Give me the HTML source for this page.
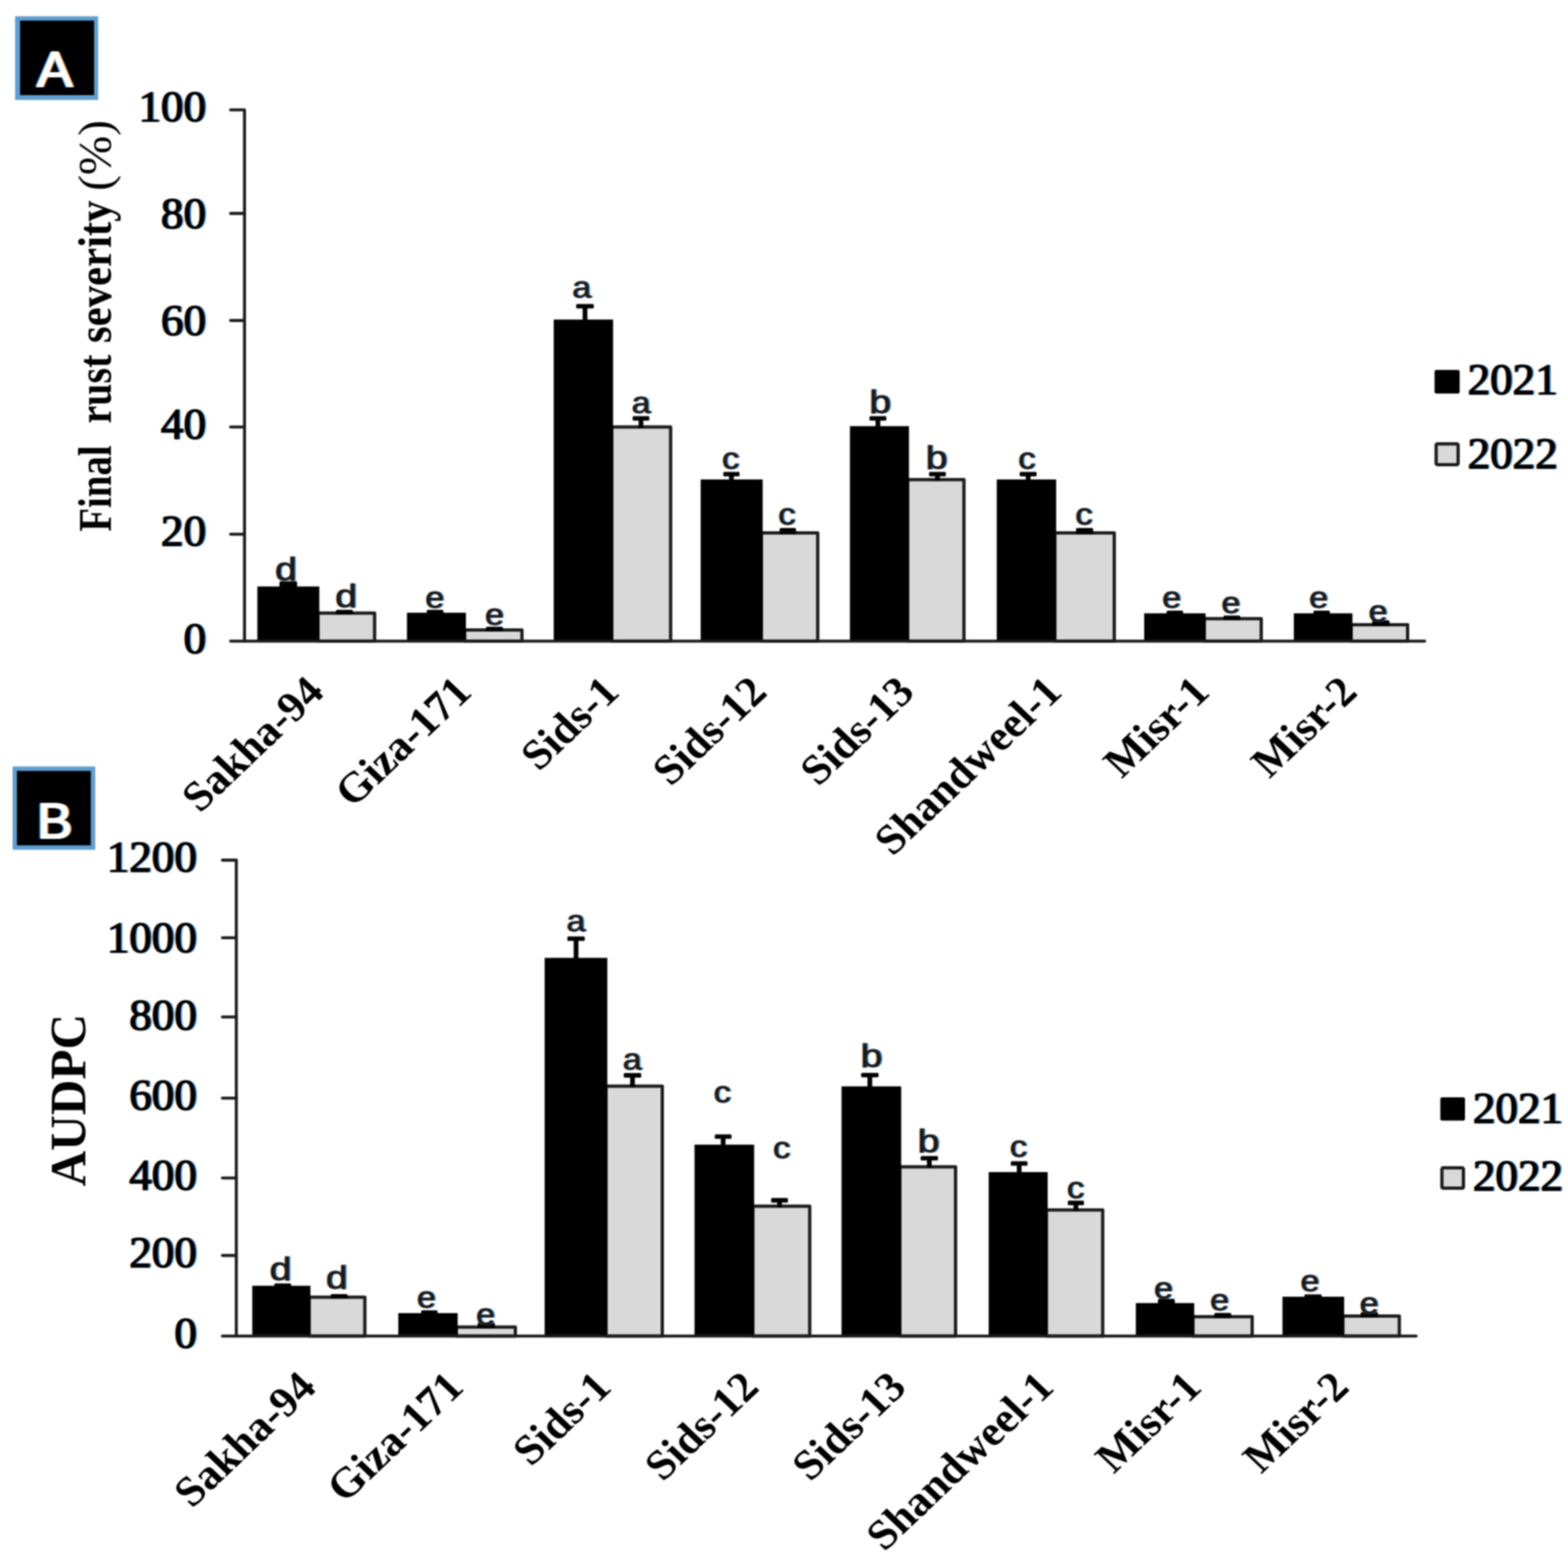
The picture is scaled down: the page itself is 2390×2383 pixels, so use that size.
<!DOCTYPE html>
<html lang="en"><head><meta charset="utf-8"><title>Final rust severity and AUDPC of wheat cultivars, 2021 and 2022</title>
<style>html,body{margin:0;padding:0;background:#fff}body{width:2390px;height:2383px;overflow:hidden}svg{display:block}text{white-space:pre}</style>
</head><body>
<svg xmlns="http://www.w3.org/2000/svg" width="2390" height="2383" viewBox="0 0 2390 2383" role="img">
<defs><filter id="soft" filterUnits="userSpaceOnUse" x="0" y="0" width="2390" height="2383" color-interpolation-filters="sRGB"><feGaussianBlur stdDeviation="1.1"/></filter><filter id="fr" x="-5%" y="-5%" width="110%" height="110%" color-interpolation-filters="sRGB"><feFlood flood-color="#f08a30" flood-opacity="0.85"/><feComposite in2="SourceAlpha" operator="in"/><feOffset dx="-1.5" result="o"/><feFlood flood-color="#2a8ae6" flood-opacity="0.85"/><feComposite in2="SourceAlpha" operator="in"/><feOffset dx="1.5" result="b"/><feMerge><feMergeNode in="o"/><feMergeNode in="b"/><feMergeNode in="SourceGraphic"/></feMerge></filter><filter id="fw" x="-5%" y="-5%" width="110%" height="110%" color-interpolation-filters="sRGB"><feFlood flood-color="#35a5ff" flood-opacity="0.9"/><feComposite in2="SourceAlpha" operator="in"/><feOffset dx="-1.5" result="b"/><feFlood flood-color="#ffa040" flood-opacity="0.9"/><feComposite in2="SourceAlpha" operator="in"/><feOffset dx="1.5" result="o"/><feMerge><feMergeNode in="b"/><feMergeNode in="o"/><feMergeNode in="SourceGraphic"/></feMerge></filter></defs>
<rect width="2390" height="2383" fill="#fff"/>
<g filter="url(#soft)">
<rect width="2390" height="2383" fill="#fff"/>
<g class="chart" id="chartA">
<g class="bars">
<rect x="484.7" y="934.8" width="86.3" height="42.7" fill="#d9d9d9" stroke="#1c1c1c" stroke-width="5" stroke-linejoin="round"/>
<rect x="392.3" y="894.2" width="94.4" height="83.3" fill="#000"/>
<rect x="708.2" y="960.5" width="87.4" height="17" fill="#d9d9d9" stroke="#1c1c1c" stroke-width="5" stroke-linejoin="round"/>
<rect x="620.3" y="934.2" width="89.9" height="43.3" fill="#000"/>
<rect x="932.5" y="650.9" width="89.7" height="326.6" fill="#d9d9d9" stroke="#1c1c1c" stroke-width="5" stroke-linejoin="round"/>
<rect x="844" y="487.2" width="90.5" height="490.3" fill="#000"/>
<rect x="1160.5" y="812.6" width="85.9" height="164.9" fill="#d9d9d9" stroke="#1c1c1c" stroke-width="5" stroke-linejoin="round"/>
<rect x="1068" y="731" width="94.5" height="246.5" fill="#000"/>
<rect x="1383.5" y="731.2" width="85.8" height="246.3" fill="#d9d9d9" stroke="#1c1c1c" stroke-width="5" stroke-linejoin="round"/>
<rect x="1295.5" y="649.7" width="90" height="327.8" fill="#000"/>
<rect x="1607.8" y="812.6" width="90.6" height="164.9" fill="#d9d9d9" stroke="#1c1c1c" stroke-width="5" stroke-linejoin="round"/>
<rect x="1519.3" y="731" width="90.5" height="246.5" fill="#000"/>
<rect x="1835.6" y="943.2" width="86.8" height="34.3" fill="#d9d9d9" stroke="#1c1c1c" stroke-width="5" stroke-linejoin="round"/>
<rect x="1744" y="935.1" width="93.6" height="42.4" fill="#000"/>
<rect x="2059.4" y="952.5" width="86.1" height="25" fill="#d9d9d9" stroke="#1c1c1c" stroke-width="5" stroke-linejoin="round"/>
<rect x="1972.1" y="935.1" width="89.3" height="42.4" fill="#000"/>
</g>
<g class="err" fill="#000">
<rect x="426" y="886.3" width="26.8" height="6.8" rx="1.5"/>
<rect x="426" y="889.2" width="26.8" height="8"/>
<rect x="512.3" y="929.7" width="25.6" height="6.8" rx="1.5"/>
<rect x="512.3" y="932.6" width="25.6" height="4"/>
<rect x="650.6" y="929.7" width="25.1" height="6.8" rx="1.5"/>
<rect x="650.6" y="932.6" width="25.1" height="4.6"/>
<rect x="740.8" y="955.4" width="25.7" height="6.8" rx="1.5"/>
<rect x="740.8" y="958.3" width="25.7" height="4"/>
<rect x="878.3" y="463.4" width="26.8" height="6.8" rx="1.5"/>
<rect x="888.1" y="466.3" width="7.2" height="23.9"/>
<rect x="964.3" y="634.4" width="25.4" height="6.8" rx="1.5"/>
<rect x="973.4" y="637.3" width="7.2" height="15.4"/>
<rect x="1102.5" y="719.4" width="24.7" height="6.8" rx="1.5"/>
<rect x="1111.25" y="722.3" width="7.2" height="11.7"/>
<rect x="1188.5" y="805.1" width="24.7" height="6.8" rx="1.5"/>
<rect x="1188.5" y="808" width="24.7" height="6.4"/>
<rect x="1325.3" y="634.4" width="25.7" height="6.8" rx="1.5"/>
<rect x="1334.55" y="637.3" width="7.2" height="15.4"/>
<rect x="1416.1" y="719.4" width="25.6" height="6.8" rx="1.5"/>
<rect x="1425.3" y="722.3" width="7.2" height="10.7"/>
<rect x="1554.3" y="719.4" width="25.7" height="6.8" rx="1.5"/>
<rect x="1563.55" y="722.3" width="7.2" height="11.7"/>
<rect x="1640.3" y="805.1" width="25.8" height="6.8" rx="1.5"/>
<rect x="1640.3" y="808" width="25.8" height="6.4"/>
<rect x="1778.3" y="930.9" width="24.9" height="6.8" rx="1.5"/>
<rect x="1778.3" y="933.8" width="24.9" height="4.3"/>
<rect x="1864.8" y="938.4" width="25.6" height="6.8" rx="1.5"/>
<rect x="1864.8" y="941.3" width="25.6" height="3.7"/>
<rect x="2002" y="930.9" width="25" height="6.8" rx="1.5"/>
<rect x="2002" y="933.8" width="25" height="4.3"/>
<rect x="2091.7" y="945.8" width="26.2" height="6.8" rx="1.5"/>
<rect x="2091.7" y="948.7" width="26.2" height="5.6"/>
</g>
<g class="axes" stroke="#1c1c1c" stroke-width="4.6" fill="none" stroke-linecap="round">
<path d="M351.5 977.5H2171.5"/>
<path d="M351.5 167.5H372.7V977.5" stroke-linejoin="round"/>
<path d="M351.5 325.4H372.7"/>
<path d="M351.5 488.6H372.7"/>
<path d="M351.5 651H372.7"/>
<path d="M351.5 814.5H372.7"/>
</g>
<g class="ticklabels" filter="url(#fr)" font-family='"Liberation Serif", "DejaVu Serif", serif' font-weight="400" stroke="#000" stroke-width="1.5" stroke-linejoin="round" font-size="66.7" text-anchor="end" fill="#000">
<text transform="translate(314 184.94) scale(1.03 1)">100</text>
<text transform="translate(314 348.04) scale(1.03 1)">80</text>
<text transform="translate(314 510.64) scale(1.03 1)">60</text>
<text transform="translate(314 669.24) scale(1.03 1)">40</text>
<text transform="translate(314 832.44) scale(1.03 1)">20</text>
<text transform="translate(314 995.94) scale(1.03 1)">0</text>
</g>
<g class="letters" filter="url(#fr)" font-family='"Liberation Sans", "DejaVu Sans", sans-serif' font-size="47" fill="#1a1a1a" stroke="#1a1a1a" stroke-width="0.8" stroke-linejoin="round">
<text transform="translate(419.23 885) scale(1.27 1.07)">d</text>
<text transform="translate(510.93 926.2) scale(1.27 1.07)">d</text>
<text transform="translate(648.21 927.3) scale(1.1 1.0)">e</text>
<text transform="translate(739.16 953) scale(1.1 1.0)">e</text>
<text transform="translate(872.18 453.6) scale(1.1 1.0)">a</text>
<text transform="translate(962.83 629.8) scale(1.1 1.0)">a</text>
<text transform="translate(1100.54 714.8) scale(1.12 1.0)">c</text>
<text transform="translate(1186.19 799.8) scale(1.12 1.0)">c</text>
<text transform="translate(1325.09 629.8) scale(1.27 1.07)">b</text>
<text transform="translate(1411.09 714.8) scale(1.27 1.07)">b</text>
<text transform="translate(1551.99 714.8) scale(1.12 1.0)">c</text>
<text transform="translate(1638.99 799.8) scale(1.12 1.0)">c</text>
<text transform="translate(1771.46 927.1) scale(1.1 1.0)">e</text>
<text transform="translate(1861.81 935.2) scale(1.1 1.0)">e</text>
<text transform="translate(1995.46 926.5) scale(1.1 1.0)">e</text>
<text transform="translate(2085.91 948.3) scale(1.1 1.0)">e</text>
</g>
<g class="cats" font-family='"Liberation Serif", "DejaVu Serif", serif' font-weight="700" font-size="64.6" text-anchor="end" fill="#000">
<text transform="translate(496.69 1058) scale(1.05 1) rotate(-45)">Sakha-94</text>
<text transform="translate(721.66 1058) scale(1.05 1) rotate(-45)">Giza-171</text>
<text transform="translate(946.64 1058) scale(1.05 1) rotate(-45)">Sids-1</text>
<text transform="translate(1171.61 1058) scale(1.05 1) rotate(-45)">Sids-12</text>
<text transform="translate(1396.59 1058) scale(1.05 1) rotate(-45)">Sids-13</text>
<text transform="translate(1621.56 1058) scale(1.05 1) rotate(-45)">Shandweel-1</text>
<text transform="translate(1846.54 1058) scale(1.05 1) rotate(-45)">Misr-1</text>
<text transform="translate(2071.51 1058) scale(1.05 1) rotate(-45)">Misr-2</text>
</g>
<g class="legend">
<rect x="2186.6" y="564.1" width="38.3" height="35.8" rx="3" fill="#000"/>
<rect x="2189" y="676.8" width="33.5" height="31.6" rx="2" fill="#d9d9d9" stroke="#1c1c1c" stroke-width="5" stroke-linejoin="round"/>
<g filter="url(#fr)" font-family='"Liberation Serif", "DejaVu Serif", serif' font-weight="400" stroke="#000" stroke-width="1.5" stroke-linejoin="round" font-size="66.7" fill="#000">
<text transform="translate(2236.9 601) scale(1.03 1)">2021</text>
<text transform="translate(2236.9 714.4) scale(1.03 1)">2022</text>
</g></g>
</g>
<g class="chart" id="chartB">
<g class="bars">
<rect x="471.2" y="1977.7" width="84.9" height="59.3" fill="#d9d9d9" stroke="#1c1c1c" stroke-width="5" stroke-linejoin="round"/>
<rect x="384.5" y="1960.3" width="88.7" height="76.7" fill="#000"/>
<rect x="695.6" y="2023.2" width="89.9" height="13.8" fill="#d9d9d9" stroke="#1c1c1c" stroke-width="5" stroke-linejoin="round"/>
<rect x="607.1" y="2002" width="90.5" height="35" fill="#000"/>
<rect x="923.7" y="1656" width="85.8" height="381" fill="#d9d9d9" stroke="#1c1c1c" stroke-width="5" stroke-linejoin="round"/>
<rect x="830.2" y="1460.4" width="95.5" height="576.6" fill="#000"/>
<rect x="1147.5" y="1839" width="86.7" height="198" fill="#d9d9d9" stroke="#1c1c1c" stroke-width="5" stroke-linejoin="round"/>
<rect x="1058.6" y="1745.2" width="90.9" height="291.8" fill="#000"/>
<rect x="1371.6" y="1779" width="84.9" height="258" fill="#d9d9d9" stroke="#1c1c1c" stroke-width="5" stroke-linejoin="round"/>
<rect x="1282.7" y="1656.3" width="90.9" height="380.7" fill="#000"/>
<rect x="1594.9" y="1844.7" width="85.9" height="192.3" fill="#d9d9d9" stroke="#1c1c1c" stroke-width="5" stroke-linejoin="round"/>
<rect x="1507" y="1787" width="89.9" height="250" fill="#000"/>
<rect x="1818.3" y="2007.6" width="90.3" height="29.4" fill="#d9d9d9" stroke="#1c1c1c" stroke-width="5" stroke-linejoin="round"/>
<rect x="1731.3" y="1986.7" width="89" height="50.3" fill="#000"/>
<rect x="2046.8" y="2006.6" width="86.1" height="30.4" fill="#d9d9d9" stroke="#1c1c1c" stroke-width="5" stroke-linejoin="round"/>
<rect x="1954.8" y="1977" width="94" height="60" fill="#000"/>
</g>
<g class="err" fill="#000">
<rect x="418.2" y="1956.7" width="25.5" height="6.8" rx="1.5"/>
<rect x="418.2" y="1959.6" width="25.5" height="3.7"/>
<rect x="504.2" y="1972.9" width="25.5" height="6.8" rx="1.5"/>
<rect x="504.2" y="1975.8" width="25.5" height="3.7"/>
<rect x="642" y="1997.8" width="24.9" height="6.8" rx="1.5"/>
<rect x="642" y="2000.7" width="24.9" height="4.3"/>
<rect x="728" y="2016.5" width="26.2" height="6.8" rx="1.5"/>
<rect x="728" y="2019.4" width="26.2" height="5.6"/>
<rect x="864.8" y="1427.8" width="26.5" height="6.8" rx="1.5"/>
<rect x="874.45" y="1430.7" width="7.2" height="32.7"/>
<rect x="950.8" y="1636.1" width="26.5" height="6.8" rx="1.5"/>
<rect x="960.45" y="1639" width="7.2" height="18.8"/>
<rect x="1089.5" y="1729.4" width="25.5" height="6.8" rx="1.5"/>
<rect x="1098.65" y="1732.3" width="7.2" height="15.9"/>
<rect x="1175.4" y="1826.6" width="25.6" height="6.8" rx="1.5"/>
<rect x="1184.6" y="1829.5" width="7.2" height="11.3"/>
<rect x="1312.6" y="1635.8" width="26.5" height="6.8" rx="1.5"/>
<rect x="1322.25" y="1638.7" width="7.2" height="20.6"/>
<rect x="1403.3" y="1762.4" width="26.4" height="6.8" rx="1.5"/>
<rect x="1412.9" y="1765.3" width="7.2" height="15.5"/>
<rect x="1540.7" y="1770.4" width="25.5" height="6.8" rx="1.5"/>
<rect x="1549.85" y="1773.3" width="7.2" height="16.7"/>
<rect x="1627.6" y="1830.6" width="24.6" height="6.8" rx="1.5"/>
<rect x="1636.3" y="1833.5" width="7.2" height="13"/>
<rect x="1765" y="1980.3" width="25.5" height="6.8" rx="1.5"/>
<rect x="1765" y="1983.2" width="25.5" height="6.5"/>
<rect x="1851" y="2001.8" width="25.5" height="6.8" rx="1.5"/>
<rect x="1851" y="2004.7" width="25.5" height="4.7"/>
<rect x="1988.3" y="1973.5" width="26.2" height="6.8" rx="1.5"/>
<rect x="1988.3" y="1976.4" width="26.2" height="3.6"/>
<rect x="2074" y="2000.4" width="26.3" height="6.8" rx="1.5"/>
<rect x="2074" y="2003.3" width="26.3" height="5.1"/>
</g>
<g class="axes" stroke="#1c1c1c" stroke-width="4.6" fill="none" stroke-linecap="round">
<path d="M339 2037H2158.5"/>
<path d="M339 1311.4H360.2V2037" stroke-linejoin="round"/>
<path d="M339 1429.8H360.2"/>
<path d="M339 1550.5H360.2"/>
<path d="M339 1674.2H360.2"/>
<path d="M339 1796H360.2"/>
<path d="M339 1914.1H360.2"/>
</g>
<g class="ticklabels" filter="url(#fr)" font-family='"Liberation Serif", "DejaVu Serif", serif' font-weight="400" stroke="#000" stroke-width="1.5" stroke-linejoin="round" font-size="66.7" text-anchor="end" fill="#000">
<text transform="translate(300 1329.24) scale(1.03 1)">1200</text>
<text transform="translate(300 1451.64) scale(1.03 1)">1000</text>
<text transform="translate(300 1569.54) scale(1.03 1)">800</text>
<text transform="translate(300 1691.74) scale(1.03 1)">600</text>
<text transform="translate(300 1814.04) scale(1.03 1)">400</text>
<text transform="translate(300 1931.94) scale(1.03 1)">200</text>
<text transform="translate(300 2054.54) scale(1.03 1)">0</text>
</g>
<g class="letters" filter="url(#fr)" font-family='"Liberation Sans", "DejaVu Sans", sans-serif' font-size="47" fill="#1a1a1a" stroke="#1a1a1a" stroke-width="0.8" stroke-linejoin="round">
<text transform="translate(411.08 1952.3) scale(1.27 1.07)">d</text>
<text transform="translate(496.73 1964.8) scale(1.27 1.07)">d</text>
<text transform="translate(635.56 1994) scale(1.1 1.0)">e</text>
<text transform="translate(725.86 2019.5) scale(1.1 1.0)">e</text>
<text transform="translate(863.38 1419.8) scale(1.1 1.0)">a</text>
<text transform="translate(949.33 1631.1) scale(1.1 1.0)">a</text>
<text transform="translate(1087.64 1680.5) scale(1.12 1.0)">c</text>
<text transform="translate(1178.24 1765.5) scale(1.12 1.0)">c</text>
<text transform="translate(1311.74 1627) scale(1.27 1.07)">b</text>
<text transform="translate(1398.64 1756.9) scale(1.27 1.07)">b</text>
<text transform="translate(1539.24 1764.4) scale(1.12 1.0)">c</text>
<text transform="translate(1626.19 1826.7) scale(1.12 1.0)">c</text>
<text transform="translate(1759.01 1979.8) scale(1.1 1.0)">e</text>
<text transform="translate(1844.46 1997.7) scale(1.1 1.0)">e</text>
<text transform="translate(1982.16 1969.3) scale(1.1 1.0)">e</text>
<text transform="translate(2072.61 2002.8) scale(1.1 1.0)">e</text>
</g>
<g class="cats" font-family='"Liberation Serif", "DejaVu Serif", serif' font-weight="700" font-size="64.6" text-anchor="end" fill="#000">
<text transform="translate(484.66 2118) scale(1.05 1) rotate(-45)">Sakha-94</text>
<text transform="translate(709.57 2118) scale(1.05 1) rotate(-45)">Giza-171</text>
<text transform="translate(934.48 2118) scale(1.05 1) rotate(-45)">Sids-1</text>
<text transform="translate(1159.39 2118) scale(1.05 1) rotate(-45)">Sids-12</text>
<text transform="translate(1384.31 2118) scale(1.05 1) rotate(-45)">Sids-13</text>
<text transform="translate(1609.22 2118) scale(1.05 1) rotate(-45)">Shandweel-1</text>
<text transform="translate(1834.13 2118) scale(1.05 1) rotate(-45)">Misr-1</text>
<text transform="translate(2059.04 2118) scale(1.05 1) rotate(-45)">Misr-2</text>
</g>
<g class="legend">
<rect x="2195.4" y="1672.9" width="37.6" height="35.7" rx="3" fill="#000"/>
<rect x="2197.8" y="1780.6" width="32.8" height="30.9" rx="2" fill="#d9d9d9" stroke="#1c1c1c" stroke-width="5" stroke-linejoin="round"/>
<g filter="url(#fr)" font-family='"Liberation Serif", "DejaVu Serif", serif' font-weight="400" stroke="#000" stroke-width="1.5" stroke-linejoin="round" font-size="66.7" fill="#000">
<text transform="translate(2245 1711.7) scale(1.03 1)">2021</text>
<text transform="translate(2245 1814.5) scale(1.03 1)">2022</text>
</g></g>
</g>
<g class="ytitle" transform="translate(168.5 812) rotate(-90) scale(1 1.09)" font-family='"Liberation Serif", "DejaVu Serif", serif' font-weight="700" font-size="66" fill="#000">
<text x="1.41" y="0" textLength="131.57" lengthAdjust="spacingAndGlyphs">Final</text>
<text x="166.28" y="0" textLength="104.9" lengthAdjust="spacingAndGlyphs">rust</text>
<text x="289.04" y="0" textLength="217.46" lengthAdjust="spacingAndGlyphs">severity</text>
<text x="521.12" y="0" font-weight="400" textLength="107.98" lengthAdjust="spacingAndGlyphs">(%)</text>
</g>
<text class="ytitle" transform="translate(129.8 1808.8) rotate(-90)" font-family='"Liberation Serif", "DejaVu Serif", serif' font-weight="700" font-size="78" textLength="263" lengthAdjust="spacingAndGlyphs" fill="#000">AUDPC</text>
<g class="panel">
<rect x="23" y="24.8" width="126.6" height="127.6" fill="#5f9fd0"/>
<rect x="30.6" y="31.4" width="112.8" height="113.6" fill="#000"/>
<text filter="url(#fw)" transform="translate(56.6 132.2) scale(1.06 1)" font-family='"Liberation Sans", "DejaVu Sans", sans-serif' font-size="76" fill="#fff" stroke="#fff" stroke-width="2.2" stroke-linejoin="round">A</text>
</g>
<g class="panel">
<rect x="19.2" y="1168.6" width="126" height="127" fill="#5f9fd0"/>
<rect x="25.8" y="1175.4" width="112.6" height="113.4" fill="#000"/>
<text filter="url(#fw)" transform="translate(56.4 1277.8) scale(1.06 1)" font-family='"Liberation Sans", "DejaVu Sans", sans-serif' font-size="76" fill="#fff" stroke="#fff" stroke-width="2.2" stroke-linejoin="round">B</text>
</g>
</g>
</svg>
</body></html>
